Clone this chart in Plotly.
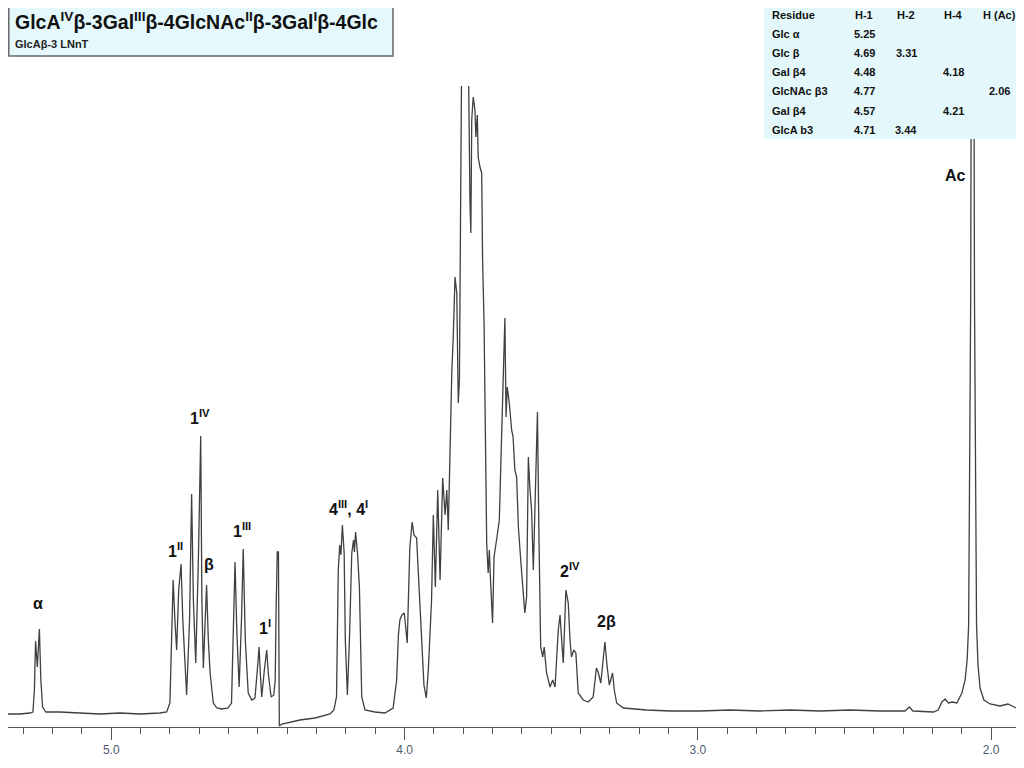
import plotly.graph_objects as go

# ---------------- data ----------------
ppm = [5.352, 5.311, 5.277, 5.267, 5.262, 5.258, 5.252, 5.245, 5.240, 5.234, 5.223,
       5.175, 5.107, 5.039, 4.970, 4.902, 4.834,
       4.811, 4.800, 4.794, 4.789, 4.783, 4.777, 4.770, 4.762, 4.756, 4.743,
       4.733, 4.726, 4.720, 4.712, 4.703, 4.695, 4.691, 4.686, 4.681, 4.675,
       4.669, 4.663, 4.652, 4.640, 4.623, 4.602,
       4.590, 4.584, 4.578, 4.572, 4.564, 4.556, 4.550, 4.543, 4.533, 4.521,
       4.510, 4.502, 4.496, 4.492, 4.487, 4.478, 4.470, 4.464, 4.455, 4.446,
       4.441, 4.438, 4.434, 4.430, 4.427, 4.418, 4.391, 4.357, 4.305, 4.254,
       4.241, 4.232, 4.226, 4.221, 4.217, 4.212, 4.206, 4.202, 4.195, 4.188,
       4.180, 4.174, 4.171, 4.167, 4.160, 4.154, 4.146, 4.135, 4.101, 4.067,
       4.039, 4.027, 4.021, 4.016, 4.009, 4.001, 3.997, 3.991, 3.987, 3.982,
       3.974, 3.968, 3.959, 3.951, 3.942, 3.934, 3.926, 3.919, 3.908, 3.902,
       3.895, 3.887, 3.879, 3.870, 3.862, 3.856, 3.851, 3.845, 3.839, 3.834,
       3.828, 3.822, 3.817, 3.813, 3.809, 3.805, 3.794, 3.783, 3.777, 3.774,
       3.771, 3.766, 3.760, 3.757, 3.752, 3.749, 3.743, 3.737, 3.734, 3.729,
       3.726, 3.723, 3.720, 3.715, 3.711, 3.707, 3.700, 3.695, 3.689, 3.683,
       3.677, 3.671, 3.666, 3.662, 3.658, 3.654, 3.650, 3.643, 3.635, 3.630,
       3.624, 3.618, 3.612, 3.604, 3.598, 3.590, 3.584, 3.578, 3.573, 3.567,
       3.561, 3.558, 3.550, 3.547, 3.542, 3.536, 3.529, 3.524, 3.516, 3.504,
       3.495, 3.487, 3.476, 3.470, 3.465, 3.459, 3.450, 3.442, 3.436, 3.431,
       3.423, 3.416, 3.408, 3.391, 3.374, 3.357, 3.346, 3.340, 3.331, 3.324,
       3.317, 3.310, 3.302, 3.291, 3.285, 3.277, 3.254, 3.175, 3.095, 2.993,
       2.891, 2.788, 2.686, 2.584, 2.482, 2.379, 2.294, 2.279, 2.267, 2.197,
       2.181, 2.168, 2.157, 2.146, 2.133, 2.117, 2.108, 2.100, 2.089, 2.082,
       2.077, 2.074, 2.070, 2.067, 2.060, 2.057, 2.053, 2.050, 2.045, 2.038,
       2.025, 2.004, 1.970, 1.943, 1.915]

intensity = [13, 13, 14, 15, 37, 86, 60, 98, 47, 20, 15,
             15, 14, 13, 14, 13, 14,
             15, 24, 87, 147, 107, 77, 137, 163, 107, 32,
             107, 233, 127, 64, 167, 291, 127, 59, 97, 142,
             87, 54, 24, 19, 18, 19,
             24, 87, 165, 97, 40, 107, 178, 87, 34, 27,
             29, 57, 80, 55, 30, 57, 77, 52, 30, 32,
             47, 117, 175, 175, 1, 3, 5, 7, 9, 13,
             17, 30, 157, 182, 172, 202, 174, 87, 32, 87,
             174, 187, 175, 195, 172, 140, 30, 17, 15, 14,
             19, 47, 92, 107, 112, 114, 102, 84, 127, 180,
             205, 192, 189, 137, 80, 42, 29, 57, 127, 212,
             140, 237, 147, 249, 212, 237, 197, 282, 355, 390,
             450, 434, 324, 347, 560, 687, 760, 687, 524, 494,
             607, 630, 617, 590, 612, 570, 560, 554, 467, 404,
             330, 244, 184, 154, 177, 147, 104, 170, 180, 194,
             207, 280, 327, 367, 409, 310, 340, 324, 297, 290,
             257, 250, 200, 167, 147, 114, 130, 270, 240, 217,
             157, 194, 280, 315, 194, 80, 70, 80, 54, 40,
             47, 40, 97, 112, 90, 64, 137, 124, 87, 70,
             77, 74, 34, 27, 25, 30, 59, 55, 44, 67,
             85, 62, 42, 54, 37, 24, 19, 17, 16, 16,
             17, 16, 17, 16, 17, 16, 16, 20, 16, 15,
             17, 25, 28, 24, 25, 24, 29, 34, 47, 67,
             102, 227, 427, 800, 800, 427, 227, 102, 62, 39,
             27, 23, 21, 23, 19]

peak_labels = ["α", "1<sup>II</sup>", "1<sup>IV</sup>", "β", "1<sup>III</sup>", "1<sup>I</sup>",
               "4<sup>III</sup>, 4<sup>I</sup>", "2<sup>IV</sup>", "2β", "Ac"]

title_main = "GlcA<sup>IV</sup>β-3Gal<sup>III</sup>β-4GlcNAc<sup>II</sup>β-3Gal<sup>I</sup>β-4Glc"
title_sub = "GlcAβ-3 LNnT"

table_header = ["Residue", "H-1", "H-2", "H-4", "H (Ac)"]
residues = ["Glc α", "Glc β", "Gal β4", "GlcNAc β3", "Gal β4", "GlcA b3"]
h1 = ["5.25", "4.69", "4.48", "4.77", "4.57", "4.71"]
h2 = ["", "3.31", "", "", "", "3.44"]
h4 = ["", "", "4.18", "", "4.21", ""]
hac = ["", "", "", "2.06", "", ""]

tick_vals = [5.0, 4.0, 3.0, 2.0]
tick_text = ["5.0", "4.0", "3.0", "2.0"]

# ---------------- layout helpers ----------------
# the page body has an 8px margin, so the figure is drawn at (8, 8) in the window
OFF = 8
W, H = 1016, 760
ML, MT = 0, 78
PW, PH = 1008, 641
MR, MB = W - ML - PW, H - MT - PH
FAM = "Liberation Sans, Arial, sans-serif"


def px(x):  # window pixel x -> paper
    return (x - OFF - ML) / PW


def py(y):  # window pixel y -> paper
    return (OFF + MT + PH - y) / PH


def bold(t):
    return "<b>" + t + "</b>"


fig = go.Figure()
fig.add_trace(go.Scatter(x=ppm, y=intensity, mode="lines",
                         line=dict(color="#404040", width=1.3),
                         hoverinfo="skip", showlegend=False))

ann = []
label_pos = [(38, 603), (175, 550), (200, 417), (209, 564), (242, 530), (265, 627),
             (348, 508), (570, 570), (606, 621), (955, 175)]
for t, (x, y) in zip(peak_labels, label_pos):
    ann.append(dict(x=px(x), y=py(y), xref="paper", yref="paper", text=bold(t),
                    showarrow=False, xanchor="center", yanchor="middle",
                    font=dict(family=FAM, size=16, color="#111111")))

shapes = []
shapes.append(dict(type="rect", xref="paper", yref="paper", x0=px(8.8), x1=px(393), y0=py(4), y1=py(56),
                   fillcolor="#e5f9fc", line=dict(color="#666666", width=1.5), layer="above"))
ann.append(dict(x=px(13), y=py(21), xref="paper", yref="paper", text=bold(title_main), showarrow=False,
                xanchor="left", yanchor="middle",
                font=dict(family=FAM, size=19.5, color="#111111")))
ann.append(dict(x=px(13), y=py(44), xref="paper", yref="paper", text=bold(title_sub), showarrow=False,
                xanchor="left", yanchor="middle",
                font=dict(family=FAM, size=11, color="#222222")))

shapes.append(dict(type="rect", xref="paper", yref="paper", x0=px(764), x1=px(1024), y0=py(8), y1=py(139),
                   fillcolor="#e4f8fb", line=dict(width=0), layer="above"))
col_x = [770, 864, 906, 953, 999]
row_y0, row_dy = 15, 19.1
for j, h in enumerate(table_header):
    ann.append(dict(x=px(col_x[j]), y=py(row_y0), xref="paper", yref="paper", text=bold(h), showarrow=False,
                    xanchor="left" if j == 0 else "center", yanchor="middle",
                    font=dict(family=FAM, size=11, color="#111111")))
for i in range(len(residues)):
    row = [residues[i], h1[i], h2[i], h4[i], hac[i]]
    for j, v in enumerate(row):
        if not v:
            continue
        ann.append(dict(x=px(col_x[j]), y=py(row_y0 + (i + 1) * row_dy), xref="paper", yref="paper",
                        text=bold(v), showarrow=False, xanchor="left" if j == 0 else "center",
                        yanchor="middle", font=dict(family=FAM, size=11, color="#111111")))

fig.update_layout(
    width=W, height=H,
    margin=dict(l=ML, r=MR, t=MT, b=MB, pad=0),
    paper_bgcolor="white", plot_bgcolor="white",
    showlegend=False,
    annotations=ann, shapes=shapes,
    xaxis=dict(range=[5.352, 1.9155], showgrid=False, zeroline=False,
               showline=True, linecolor="#555555", linewidth=1,
               ticks="outside", ticklen=12, tickcolor="#555555", tickwidth=1,
               tickvals=tick_vals, ticktext=tick_text,
               tickfont=dict(family=FAM, size=12, color="#4f5b70"),
               minor=dict(dtick=0.1, tick0=0, ticks="outside", ticklen=6,
                          tickcolor="#555555", tickwidth=1, showgrid=False)),
    yaxis=dict(range=[0, PH], visible=False, showgrid=False, zeroline=False),
)

fig.write_html("out.html")
